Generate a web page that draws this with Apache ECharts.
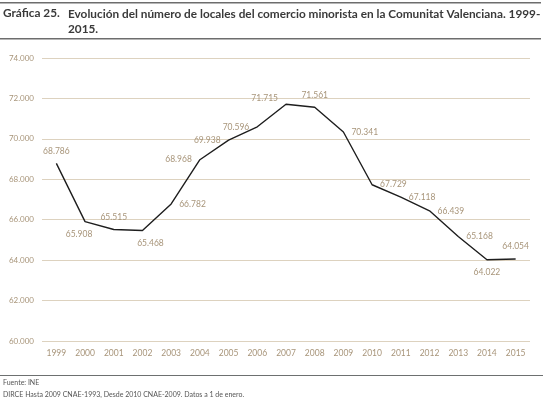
<!DOCTYPE html>
<html>
<head>
<meta charset="utf-8">
<script src="https://cdn.jsdelivr.net/npm/echarts@6/dist/echarts.min.js"></script>
<style>
  html, body { margin: 0; padding: 0; background: #fff; }
  #main { width: 546px; height: 400px; }
</style>
</head>
<body>
<div id="main"></div>
<script>
// datos
const years = ['1999', '2000', '2001', '2002', '2003', '2004', '2005', '2006', '2007',
  '2008', '2009', '2010', '2011', '2012', '2013', '2014', '2015'];
const locales = [68786, 65908, 65515, 65468, 66782, 68968, 69938, 70596, 71715,
  71561, 70341, 67729, 67118, 66439, 65168, 64022, 64054];

// posición de cada etiqueta, como en el original
const labelPos = ['top', 'bottom', 'top', 'bottom', 'right', 'left', 'left', 'left', 'left',
  'top', 'right', 'right', 'right', 'right', 'right', 'bottom', 'top'];
const labelOffset = { 3: [8, 0], 1: [-6, 0], 8: [0, -6] };

const tan = '#a8957a';
const fontFam = 'Lato, "Open Sans", sans-serif';

function fmt(v) {
  return String(v).replace(/\B(?=(\d{3})+(?!\d))/g, '.');
}

const chart = echarts.init(document.getElementById('main'));

const option = {
  animation: false,
  textStyle: { fontFamily: fontFam },
  grid: { left: 42, right: 16, top: 58, bottom: 59 },
  graphic: [
    { type: 'rect', shape: { x: 0, y: 2, width: 541, height: 1.5 }, style: { fill: '#6d6d6d' } },
    { type: 'rect', shape: { x: 0, y: 38, width: 541, height: 1.5 }, style: { fill: '#6d6d6d' } },
    { type: 'rect', shape: { x: 0, y: 375, width: 543, height: 1 }, style: { fill: '#6d7070' } },
    {
      type: 'text', left: 3, top: 7,
      style: { text: 'Gráfica 25.', fontFamily: fontFam, fontSize: 11.8, fontWeight: 'bold', fill: '#3a3a3a' }
    },
    {
      type: 'text', left: 68, top: 7,
      style: {
        text: 'Evolución del número de locales del comercio minorista en la Comunitat Valenciana. 1999-\n2015.',
        fontFamily: fontFam, fontSize: 11.8, fontWeight: 'bold', fill: '#3a3a3a', lineHeight: 15
      }
    },
    {
      type: 'text', left: 3, top: 379,
      style: { text: 'Fuente: INE', fontFamily: fontFam, fontSize: 7, fill: '#555' }
    },
    {
      type: 'text', left: 3, top: 391,
      style: { text: 'DIRCE Hasta 2009 CNAE-1993, Desde 2010 CNAE-2009. Datos a 1 de enero.', fontFamily: fontFam, fontSize: 7, fill: '#555' }
    }
  ],
  xAxis: {
    type: 'category',
    data: years,
    boundaryGap: true,
    axisLine: { show: false },
    axisTick: { show: false },
    axisLabel: { color: tan, fontSize: 8.5, margin: 8, fontFamily: fontFam }
  },
  yAxis: {
    type: 'value',
    min: 60000,
    max: 74000,
    interval: 2000,
    axisLine: { show: false },
    axisTick: { show: false },
    axisLabel: { color: tan, fontSize: 8, margin: 8, formatter: fmt, fontFamily: fontFam },
    splitLine: { lineStyle: { color: '#ddd2bf', width: 1 } }
  },
  series: [
    {
      type: 'line',
      data: locales.map((v, i) => ({
        value: v,
        label: { position: labelPos[i], offset: labelOffset[i] || [0, 0] }
      })),
      showSymbol: true,
      symbol: 'circle',
      symbolSize: 2,
      itemStyle: { color: 'rgba(0,0,0,0)', borderWidth: 0 },
      lineStyle: { color: '#1e1e1e', width: 1.4 },
      label: {
        show: true,
        color: tan,
        fontSize: 8.5,
        distance: 7,
        fontFamily: fontFam,
        formatter: p => fmt(p.value)
      }
    }
  ]
};

chart.setOption(option);
</script>
</body>
</html>
